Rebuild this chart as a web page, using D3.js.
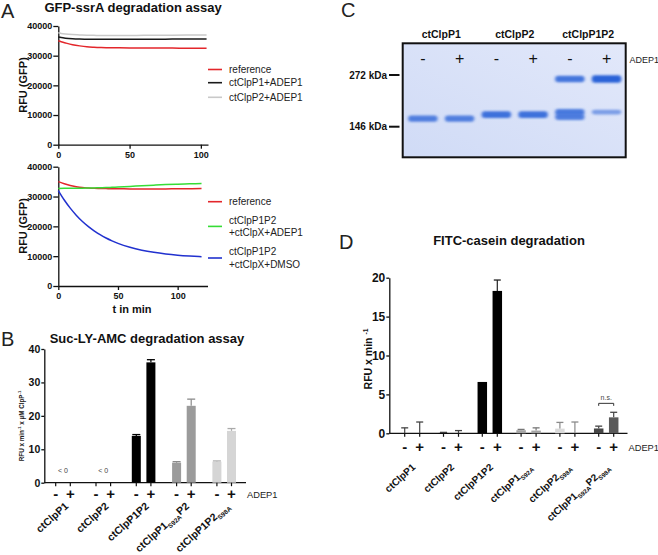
<!DOCTYPE html>
<html><head><meta charset="utf-8">
<script src="https://cdn.jsdelivr.net/npm/d3@7"></script>
<style>body{margin:0;background:#fff}svg{display:block}</style>
</head><body><svg id="c" width="658" height="555"></svg>
<script>
// ---------- DATA ----------
// Panel A (top): GFP-ssrA degradation, time in min
const tTop   = [0,2,5,10,15,20,25,30,40,50,60,70,80,90,100,104];
const refTop = [35000,34700,34300,33700,33300,33000,32850,32750,32650,32600,32550,32550,32550,32500,32500,32500];
const p1Top  = [36300,36100,35900,35700,35600,35550,35500,35500,35500,35500,35550,35550,35600,35600,35650,35650];
const p2Top  = [37700,37500,37300,37100,37000,36900,36850,36800,36800,36800,36850,36850,36900,36950,37000,37000];
const legendTop = ["reference","ctClpP1+ADEP1","ctClpP2+ADEP1"];
// Panel A (bottom)
const tBot     = [0,5,10,15,20,25,30,35,40,45,50,60,70,80,90,100,110,120];
const refBot   = [35000,34300,33700,33300,33000,32850,32750,32700,32650,32600,32600,32550,32550,32550,32550,32600,32600,32650];
const adepBot  = [32700,32750,32750,32800,32800,32850,32900,32950,33000,33100,33200,33400,33600,33800,34000,34150,34250,34350];
const dmsoBot  = [32000,28830,26100,23750,21720,19980,18490,17190,16080,15130,14300,12980,12000,11280,10740,10340,10050,9830];
const legendBot = [["reference"],["ctClpP1P2","+ctClpX+ADEP1"],["ctClpP1P2","+ctClpX+DMSO"]];
const gfpTicks = [0,10000,20000,30000,40000];
const tTicks = [0,50,100];

// Panel B: Suc-LY-AMC
const bGroups  = ["ctClpP1","ctClpP2","ctClpP1P2","ctClpP1_{S92A}P2","ctClpP1P2_{S98A}"];
const bMinus   = [null,null,14.0,6.0,6.3];
const bMinusHi = [null,null,14.4,6.3,6.5];
const bPlus    = [null,null,36.0,23.0,15.5];
const bPlusHi  = [null,null,36.8,25.0,16.2];
const bNegNote = ["< 0","< 0",null,null,null];
const bTicks   = [0,10,20,30,40];

// Panel C: native gel
const gelLanes  = ["ctClpP1 -","ctClpP1 +","ctClpP2 -","ctClpP2 +","ctClpP1P2 -","ctClpP1P2 +"];
const gelHeads  = ["ctClpP1","ctClpP2","ctClpP1P2"];
const gelSigns  = ["-","+","-","+","-","+"];
const markers   = [272,146];
const bandLane  = [0,1,2,3,4,4,4,5,5];
const bandKDa   = [161,161,169,169,259,174,164,259,174];
const bandInt   = [0.7,0.7,0.85,0.85,0.8,0.75,0.7,1.0,0.4];

// Panel D: FITC-casein
const dGroups  = ["ctClpP1","ctClpP2","ctClpP1P2","ctClpP1_{S92A}","ctClpP2_{S98A}","ctClpP1_{S92A}P2_{S98A}"];
const dMinus   = [0,0.05,6.6,0.4,0.6,0.62];
const dMinusHi = [0.7,0.12,null,0.5,1.4,0.92];
const dPlus    = [0,0,18.3,0.35,0,2.05];
const dPlusHi  = [1.45,0.35,19.7,0.7,1.45,2.7];
const dTicks   = [0,5,10,15,20];

// ---------- STYLE ----------
const FONT = '"Liberation Sans", Arial, Helvetica, sans-serif';
const svg = d3.select('#c').attr('font-family', FONT);
svg.append('rect').attr('width',658).attr('height',555).attr('fill','#fff');

function styleAxis(g, fs){
  g.attr('font-family', FONT).attr('font-size', fs);
  g.selectAll('path,line').attr('stroke','#111').attr('stroke-width',1.3);
  g.selectAll('text').attr('font-weight','bold').attr('fill','#111');
}
function rich(t, str, fs){
  const parts = str.split(/([_^]\{[^}]*\})/).filter(s=>s.length);
  let off = 0;
  parts.forEach(p=>{
    let target = 0, size = fs, txt = p;
    if(p.startsWith('_{')){ target = fs*0.28; size = fs*0.62; txt = p.slice(2,-1); }
    else if(p.startsWith('^{')){ target = -fs*0.38; size = fs*0.65; txt = p.slice(2,-1); }
    t.append('tspan').attr('font-size',size).attr('dy',target-off).text(txt);
    off = target;
  });
  return t;
}
function letter(txt,x,y){
  svg.append('text').attr('x',x).attr('y',y).attr('font-size',20).attr('fill','#222').text(txt);
}
function title(txt,x,y){
  svg.append('text').attr('x',x).attr('y',y).attr('text-anchor','middle')
    .attr('font-size',13).attr('font-weight','bold').attr('fill','#111').text(txt);
}

// ---------- PANEL A ----------
letter('A',1,18);
title('GFP-ssrA degradation assay',133,12);

function linePanel(xs, xDom, xRange, yRange, series, colors, legend, legY){
  const x = d3.scaleLinear().domain(xDom).range(xRange);
  const y = d3.scaleLinear().domain([0,40000]).range(yRange);
  const gy = svg.append('g').attr('transform',`translate(${xRange[0]},0)`)
    .call(d3.axisLeft(y).tickValues(gfpTicks).tickFormat(d3.format('d')).tickSize(5).tickSizeOuter(0).tickPadding(1));
  styleAxis(gy,9);
  const gx = svg.append('g').attr('transform',`translate(0,${yRange[0]})`)
    .call(d3.axisBottom(x).tickValues(tTicks).tickSize(4).tickSizeOuter(0).tickPadding(3));
  styleAxis(gx,9);
  const line = d3.line().curve(d3.curveMonotoneX);
  series.forEach((s,i)=>{
    svg.append('path').attr('d', line(xs.map((t,j)=>[x(t), y(s[j])])))
      .attr('fill','none').attr('stroke',colors[i]).attr('stroke-width',1.5);
  });
  legend.forEach((lab,i)=>{
    const ly = legY[i];
    svg.append('line').attr('x1',208).attr('x2',222).attr('y1',ly).attr('y2',ly)
      .attr('stroke',colors[i]).attr('stroke-width',1.6);
    const lines = Array.isArray(lab)?lab:[lab];
    lines.forEach((l,k)=>{
      svg.append('text').attr('x',229).attr('y',ly+3.5+(lines.length>1?(k-0.5)*12.5:0))
        .attr('font-size',10).attr('fill','#222').text(l);
    });
  });
  return {x,y};
}
linePanel(tTop,[0,105],[58.3,208],[144.7,26],[refTop,p1Top,p2Top],
  ['#e3262b','#1a1a1a','#c9c9c9'],legendTop,[69.5,82.7,97.3]);
linePanel(tBot,[0,125],[58.3,207.5],[286,166.7],[refBot,adepBot,dmsoBot],
  ['#e3262b','#36dc36','#2131cf'],legendBot,[201.7,226.4,258]);

// y labels
[[85,'RFU (GFP)'],[226,'RFU (GFP)']].forEach(([cy,t])=>{
  svg.append('text').attr('transform',`translate(27,${cy}) rotate(-90)`).attr('text-anchor','middle')
    .attr('font-size',11).attr('font-weight','bold').attr('fill','#111').text(t);
});
svg.append('text').attr('x',132).attr('y',313).attr('text-anchor','middle')
  .attr('font-size',11).attr('font-weight','bold').attr('fill','#111').text('t in min');

// ---------- BAR PANEL HELPER ----------
function barPanel(o){
  const x = d3.scalePoint().domain(o.groups).range(o.xr);
  const xi = d3.scalePoint().domain(['-','+']).range([-o.inner,o.inner]);
  const y = d3.scaleLinear().domain(o.yDom).range(o.yr);
  const gy = svg.append('g').attr('transform',`translate(${o.axisX},0)`)
    .call(d3.axisLeft(y).tickValues(o.ticks).tickSize(3).tickSizeOuter(0).tickPadding(1));
  styleAxis(gy,o.tickFs);
  svg.append('line').attr('x1',o.axisX).attr('x2',o.axisEnd).attr('y1',y(0)).attr('y2',y(0))
    .attr('stroke','#111').attr('stroke-width',1.3);
  o.groups.forEach((gname,i)=>{
    [['-',o.minus[i],o.minusHi[i],o.colM[i]],['+',o.plus[i],o.plusHi[i],o.colP[i]]].forEach(([s,v,hi,c])=>{
      const cx = x(gname)+xi(s);
      if(hi!=null){
        svg.append('line').attr('x1',cx).attr('x2',cx).attr('y1',y(v||0)).attr('y2',y(hi))
          .attr('stroke',o.errCol[i]).attr('stroke-width',1.2);
        svg.append('line').attr('x1',cx-o.cap).attr('x2',cx+o.cap).attr('y1',y(hi)).attr('y2',y(hi))
          .attr('stroke',o.errCol[i]).attr('stroke-width',1.3);
      }
      if(v!=null && v>0){
        svg.append('rect').attr('x',cx-o.bw/2).attr('width',o.bw).attr('y',y(v)).attr('height',y(0)-y(v))
          .attr('fill',c);
      }
      svg.append('line').attr('x1',cx).attr('x2',cx).attr('y1',y(0)).attr('y2',y(0)+3.5)
        .attr('stroke','#111').attr('stroke-width',1.2);
      svg.append('text').attr('x',cx).attr('y',o.signY).attr('text-anchor','middle')
        .attr('font-size',15).attr('font-weight','bold').attr('fill','#111').text(s);
    });
    const t = svg.append('text').attr('transform',`translate(${x(gname)+o.labDx},${o.labY}) rotate(-42)`)
      .attr('text-anchor','end').attr('font-weight','bold').attr('fill','#111');
    rich(t,gname,o.labFs);
  });
  svg.append('text').attr('x',o.axisEnd+1).attr('y',o.signY-1.5).attr('font-size',9.3).attr('fill','#222').text('ADEP1');
  return {x,xi,y};
}

// ---------- PANEL B ----------
letter('B',1,346);
title('Suc-LY-AMC degradation assay',147,343);
const B = barPanel({groups:bGroups,xr:[63,224.2],inner:7.3,yDom:[0,40],yr:[482.7,349],axisX:44.3,axisEnd:246,
  ticks:bTicks,tickFs:10.5,minus:bMinus,minusHi:bMinusHi,plus:bPlus,plusHi:bPlusHi,
  colM:['#000','#000','#000','#9b9b9b','#d5d5d5'],colP:['#000','#000','#000','#9b9b9b','#d5d5d5'],
  errCol:['#000','#000','#000','#8a8a8a','#aaaaaa'],bw:9,cap:4,signY:499,labDx:6,labY:507,labFs:10.5});
bNegNote.forEach((n,i)=>{
  if(n) svg.append('text').attr('x',B.x(bGroups[i])).attr('y',B.y(0)-10).attr('text-anchor','middle')
    .attr('font-size',7).attr('fill','#444').text(n);
});
const tb = svg.append('text').attr('transform','translate(23.5,426) rotate(-90)').attr('text-anchor','middle')
  .attr('font-weight','bold').attr('fill','#222');
rich(tb,'RFU x min^{-1} x µM ClpP^{-1}',6.3);

// ---------- PANEL C ----------
letter('C',341,17);
const defs = svg.append('defs');
const grad = defs.append('linearGradient').attr('id','gelbg').attr('x1',0).attr('y1',1).attr('x2',1).attr('y2',0);
grad.append('stop').attr('offset',0).attr('stop-color','#d0dbf6');
grad.append('stop').attr('offset',1).attr('stop-color','#e2e8fa');
defs.append('filter').attr('id','blur').attr('x','-20%').attr('y','-150%').attr('width','140%').attr('height','400%')
  .append('feGaussianBlur').attr('stdDeviation','1.6 1.3');
const gx0 = 402.7, gx1 = 625.7, gy0 = 43.3, gy1 = 157.3;
const xl = d3.scaleBand().domain(gelLanes).range([gx0+2.5,gx1-1.5]).paddingInner(0.2).paddingOuter(0.08);
const yk = d3.scaleLog().domain([146,272]).range([126.7,75]);
svg.append('rect').attr('x',gx0).attr('y',gy0).attr('width',gx1-gx0).attr('height',gy1-gy0)
  .attr('fill','url(#gelbg)').attr('stroke','#111').attr('stroke-width',2);
const hInt = d3.scaleLinear().domain([0,1]).range([3,7.5]);
const oInt = d3.scaleLinear().domain([0,1]).range([0.25,1]);
bandKDa.forEach((k,i)=>{
  const ln = gelLanes[bandLane[i]];
  svg.append('rect').attr('x',xl(ln)).attr('width',xl.bandwidth()).attr('y',yk(k)-hInt(bandInt[i])/2)
    .attr('height',hInt(bandInt[i])).attr('rx',3).attr('fill','#2c63d8').attr('opacity',oInt(bandInt[i]))
    .attr('filter','url(#blur)');
});
gelHeads.forEach((h,i)=>{
  const cx = (xl(gelLanes[2*i]) + xl(gelLanes[2*i+1]) + xl.bandwidth())/2;
  svg.append('text').attr('x',cx).attr('y',38.3).attr('text-anchor','middle').attr('font-size',10.5)
    .attr('font-weight','bold').attr('fill','#111').text(h);
});
gelSigns.forEach((s,i)=>{
  svg.append('text').attr('x',xl(gelLanes[i])+xl.bandwidth()/2).attr('y',63.8).attr('text-anchor','middle')
    .attr('font-size',16).attr('fill','#111').text(s);
});
svg.append('text').attr('x',629.5).attr('y',62.5).attr('font-size',9).attr('fill','#222').text('ADEP1');
markers.forEach(m=>{
  svg.append('line').attr('x1',389).attr('x2',399.5).attr('y1',yk(m)).attr('y2',yk(m))
    .attr('stroke','#111').attr('stroke-width',2);
  svg.append('text').attr('x',387).attr('y',yk(m)+3.6).attr('text-anchor','end').attr('font-size',10)
    .attr('font-weight','bold').attr('fill','#111').text(m+' kDa');
});

// ---------- PANEL D ----------
letter('D',339,249);
title('FITC-casein degradation',509,245);
const D = barPanel({groups:dGroups,xr:[412.2,606.2],inner:7.5,yDom:[0,20],yr:[433.3,277.7],axisX:389.3,axisEnd:627.5,
  ticks:dTicks,tickFs:12,minus:dMinus,minusHi:dMinusHi,plus:dPlus,plusHi:dPlusHi,
  colM:['#000','#000','#000','#a4a4a4','#dadada','#464646'],colP:['#000','#000','#000','#a4a4a4','#dadada','#5a5a5a'],
  errCol:['#444','#444','#222','#777','#8a8a8a','#444'],bw:9.5,cap:3.5,signY:452,labDx:4,labY:468,labFs:10});
// n.s. bracket
{
  const g = dGroups[5];
  const xa = D.x(g)+D.xi('-'), xb = D.x(g)+D.xi('+'), yb = D.y(3.85);
  svg.append('path').attr('d',`M${xa},${yb+2.5}V${yb}H${xb}V${yb+2.5}`).attr('fill','none')
    .attr('stroke','#333').attr('stroke-width',1);
  svg.append('text').attr('x',(xa+xb)/2).attr('y',yb-3).attr('text-anchor','middle').attr('font-size',7)
    .attr('fill','#444').text('n.s.');
}
const td = svg.append('text').attr('transform','translate(372,359) rotate(-90)').attr('text-anchor','middle')
  .attr('font-weight','bold').attr('fill','#111');
rich(td,'RFU x min ^{-1}',10.5);
</script>
</body></html>
